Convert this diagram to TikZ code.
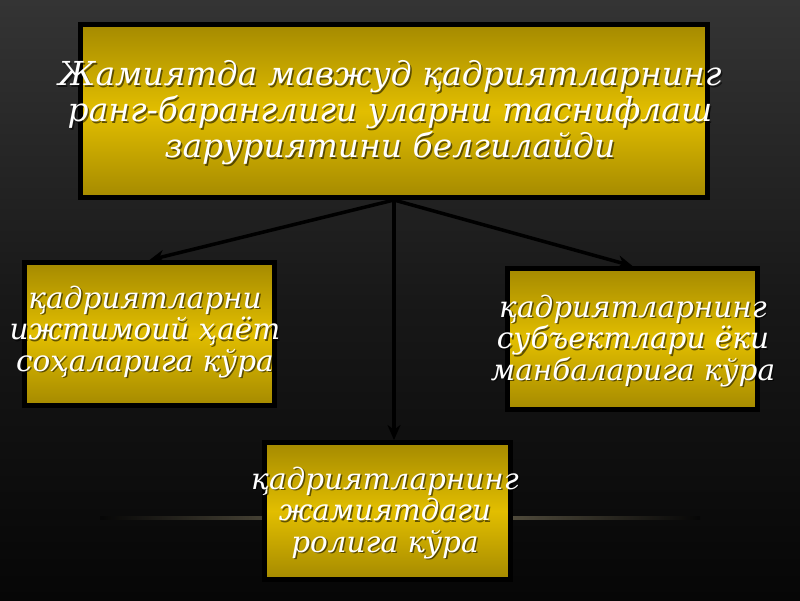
\documentclass[tikz,border=0pt]{standalone}
\usepackage{fontspec}
\setmainfont{DejaVu Serif}
\newfontfamily\boxfont{DejaVu Serif}
\usetikzlibrary{arrows.meta}
\definecolor{goldedge}{RGB}{165,138,0}
\definecolor{goldmid}{RGB}{226,190,0}
\definecolor{bgtop}{RGB}{52,52,52}
\definecolor{bgmid}{RGB}{24,24,24}
\definecolor{bgbot}{RGB}{6,6,6}
\definecolor{streak}{RGB}{150,140,110}
\tikzset{
  goldbox/.style={draw=black, line width=5pt, top color=goldedge, bottom color=goldedge, middle color=goldmid, inner sep=0pt},
  boxtext/.style={text=white, align=center, inner sep=0pt, font=\boxfont\itshape},
  shadowtext/.style={text=black, opacity=0.55, align=center, inner sep=0pt, font=\boxfont\itshape},
  bigtext/.style={font=\boxfont\itshape\fontsize{33}{36}\selectfont},
  smalltext/.style={font=\boxfont\itshape\fontsize{29.5}{31.5}\selectfont},
  arr/.style={-{Stealth[length=15pt,width=13pt]}, line width=3.5pt, black}
}
\begin{document}
\begin{tikzpicture}[x=1pt,y=-1pt]
  % background
  \shade[top color=bgtop, bottom color=bgbot, middle color=bgmid] (0,0) rectangle (800,600);
  \useasboundingbox (0,0) rectangle (800,600);
  \shade[left color=bgbot, right color=bgbot, middle color=streak, opacity=0.8] (100,516) rectangle (700,519);
  % boxes
  \node[goldbox, minimum width=627pt, minimum height=173pt] (topbox) at (394,111) {};
  \node[goldbox, minimum width=250pt, minimum height=143pt] (leftbox) at (149.5,334) {};
  \node[goldbox, minimum width=250pt, minimum height=141pt] (rightbox) at (632.5,339) {};
  \node[goldbox, minimum width=246pt, minimum height=137pt] (botbox) at (387.5,511) {};
  % connectors
  \draw[arr] (topbox.south) -- (leftbox.north);
  \draw[arr] (topbox.south) -- (rightbox.north);
  \draw[arr] (topbox.south) -- (topbox.south |- botbox.north);
  % texts (shadows)
  \node[shadowtext, bigtext] (topshadow) at (391.5,114.5) {Жамиятда мавжуд қадриятларнинг\\ранг-баранглиги уларни таснифлаш\\заруриятини белгилайди};
  \node[shadowtext, smalltext] (leftshadow) at (146.5,333.5) {қадриятларни\\ижтимоий ҳаёт\\соҳаларига кўра};
  \node[shadowtext, smalltext] (rightshadow) at (634.5,342.5) {қадриятларнинг\\субъектлари ёки\\манбаларига кўра};
  \node[shadowtext, smalltext] (botshadow) at (386.5,514.5) {қадриятларнинг\\жамиятдаги\\ролига кўра};
  % texts
  \node[boxtext, bigtext] (toptext) at (390,113) {Жамиятда мавжуд қадриятларнинг\\ранг-баранглиги уларни таснифлаш\\заруриятини белгилайди};
  \node[boxtext, smalltext] (lefttext) at (145,332) {қадриятларни\\ижтимоий ҳаёт\\соҳаларига кўра};
  \node[boxtext, smalltext] (righttext) at (633,341) {қадриятларнинг\\субъектлари ёки\\манбаларига кўра};
  \node[boxtext, smalltext] (bottext) at (385,513) {қадриятларнинг\\жамиятдаги\\ролига кўра};
\end{tikzpicture}
\end{document}
